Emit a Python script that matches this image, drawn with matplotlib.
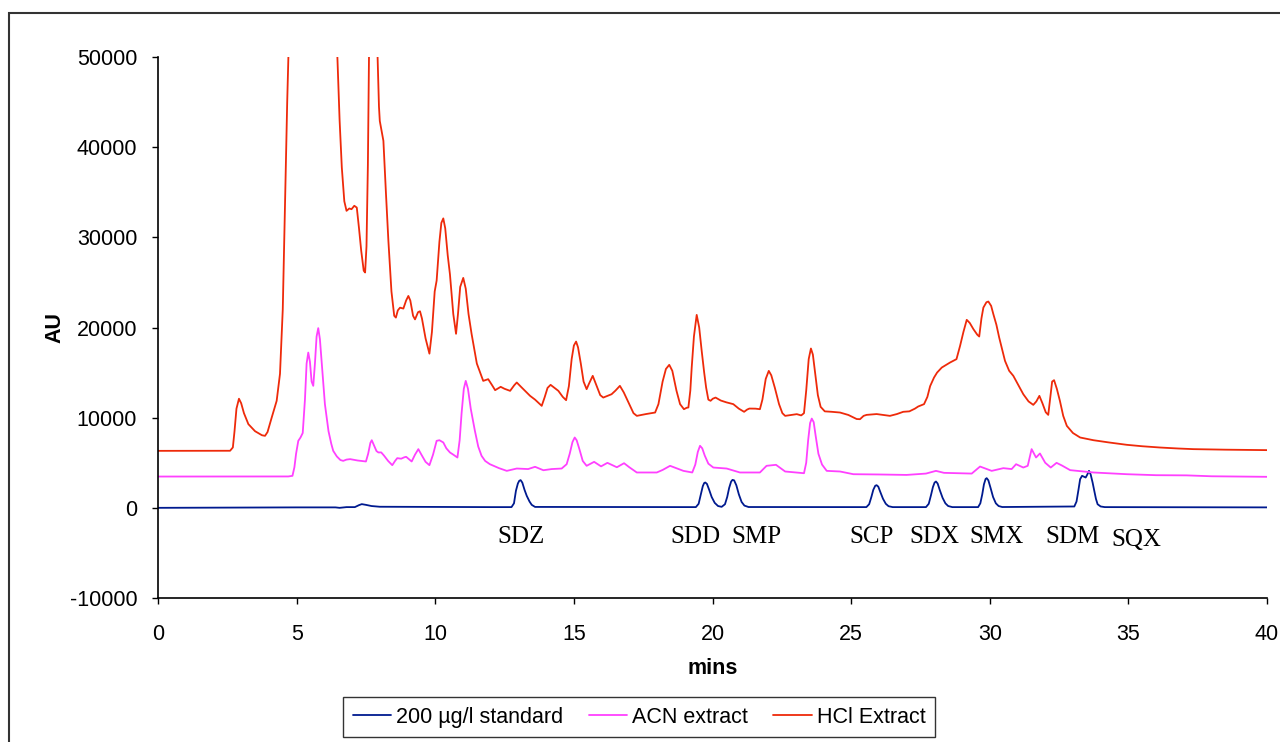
import matplotlib
matplotlib.use('Agg')
import matplotlib.pyplot as plt
from matplotlib.patches import Rectangle

# ── Data (time in mins, signal in AU) ──────────────────────────────────────────
std_t = [0, 5.0, 6.4, 6.55, 6.8, 7.1, 7.25, 7.35, 7.5, 7.7, 8.0, 12.0,
         12.75, 12.84, 12.91, 12.98, 13.03, 13.08, 13.14, 13.22, 13.3, 13.4, 13.48, 13.6,
         19.4, 19.5, 19.58, 19.65, 19.7, 19.74, 19.8, 19.88, 19.97, 20.08, 20.2, 20.33,
         20.45, 20.53, 20.6, 20.67, 20.72, 20.78, 20.86, 20.95, 21.05, 21.15, 21.3,
         25.55, 25.65, 25.73, 25.8, 25.87, 25.92, 25.98, 26.06, 26.15, 26.25, 26.35, 26.5,
         27.7, 27.8, 27.88, 27.95, 28.01, 28.06, 28.12, 28.2, 28.3, 28.4, 28.5, 28.65,
         29.58, 29.66, 29.73, 29.79, 29.85, 29.89, 29.95, 30.03, 30.12, 30.22, 30.32, 30.45,
         33.05, 33.13, 33.2, 33.26, 33.33, 33.4, 33.46, 33.52, 33.58, 33.64, 33.71, 33.77,
         33.83, 33.89, 34.0, 34.15, 40]
std_v = [0, 50, 50, 0, 80, 80, 300, 410, 330, 200, 120, 80,
         80, 500, 1890, 2700, 3000, 3070, 2800, 2000, 1330, 700, 330, 100,
         80, 450, 1500, 2400, 2750, 2810, 2650, 2000, 1200, 550, 200, 110,
         400, 1200, 2200, 2900, 3100, 3050, 2500, 1500, 650, 250, 90,
         80, 400, 1200, 2000, 2450, 2510, 2350, 1700, 1000, 450, 180, 80,
         80, 450, 1400, 2300, 2800, 2920, 2700, 1950, 1100, 500, 200, 80,
         80, 500, 1500, 2600, 3200, 3290, 3050, 2200, 1200, 500, 200, 90,
         150, 700, 2000, 3180, 3550, 3450, 3360, 3700, 4100, 3700, 2800, 1890,
         1000, 400, 150, 80, 50]

acn_t = [0, 4.7, 4.85, 4.92, 4.98, 5.06, 5.14, 5.22, 5.3, 5.36, 5.42, 5.48, 5.54, 5.6,
         5.66, 5.72, 5.78, 5.84, 5.92, 6.02, 6.15, 6.25, 6.32, 6.45, 6.58, 6.68, 6.8, 6.93,
         7.2, 7.5, 7.58, 7.66, 7.71, 7.78, 7.88, 7.95, 8.05, 8.15, 8.3, 8.45, 8.55, 8.63,
         8.77, 8.88, 8.95, 9.05, 9.15, 9.27, 9.39, 9.5, 9.65, 9.79, 9.92, 10.05, 10.15,
         10.29, 10.4, 10.53, 10.65, 10.8, 10.88, 10.95, 11.03, 11.1, 11.18, 11.28, 11.43,
         11.55, 11.67, 11.8, 11.97, 12.3, 12.58, 12.94, 13.35, 13.6, 13.9, 14.2, 14.56,
         14.74, 14.85, 14.95, 15.03, 15.1, 15.2, 15.32, 15.46, 15.73, 15.98, 16.21, 16.55,
         16.81, 17.0, 17.27, 17.99, 18.2, 18.47, 18.95, 19.27, 19.38, 19.47, 19.55, 19.63,
         19.72, 19.85, 20.03, 20.51, 20.99, 21.71, 21.95, 22.29, 22.62, 23.3, 23.38, 23.45,
         23.52, 23.58, 23.65, 23.72, 23.82, 23.95, 24.12, 24.6, 25.08, 26.0, 27.0, 27.7,
         28.06, 28.35, 29.35, 29.65, 30.07, 30.49, 30.79, 30.95, 31.21, 31.37, 31.51, 31.67,
         31.81, 32.0, 32.2, 32.41, 32.6, 32.9, 33.74, 34.94, 36.0, 37.1, 38.0, 40]
acn_v = [3470, 3480, 3550, 4500, 6000, 7430, 7800, 8300, 12000, 16000, 17220, 16200, 14000, 13530,
         16000, 19000, 19930, 18700, 15500, 11500, 8500, 7100, 6320, 5700, 5300, 5210, 5350, 5400,
         5250, 5140, 6000, 7200, 7500, 7000, 6300, 6140, 6150, 5800, 5200, 4730, 5200, 5510,
         5450, 5600, 5660, 5400, 5140, 5900, 6510, 5900, 5100, 4730, 5900, 7430, 7500,
         7250, 6600, 6140, 5900, 5580, 7500, 10500, 13200, 14080, 13200, 11000, 8540,
         6800, 5770, 5200, 4840, 4400, 4100, 4360, 4300, 4550, 4170, 4300, 4360,
         4840, 6000, 7300, 7800, 7500, 6500, 5200, 4660, 5100, 4600, 4990, 4500,
         4950, 4500, 3920, 3920, 4200, 4660, 4100, 3920, 4800, 6200, 6880, 6600,
         5800, 4900, 4470, 4360, 3920, 3920, 4660, 4770, 4030, 3840, 5000, 7500,
         9400, 9900, 9500, 8000, 6000, 4800, 4100, 4030, 3730, 3700, 3650, 3800,
         4100, 3880, 3800, 4580, 4100, 4400, 4300, 4840, 4470, 4660, 6510, 5580,
         6030, 5000, 4470, 4990, 4700, 4180, 3920, 3730, 3620, 3600, 3500, 3440]

hcl_t = [0, 2.6, 2.7, 2.76, 2.83, 2.92, 3.0, 3.1, 3.26, 3.5, 3.75, 3.86, 3.95, 4.1, 4.28,
         4.4, 4.5, 4.58, 4.66, 4.72, 4.8, 6.3, 6.47, 6.55, 6.63, 6.72, 6.8, 6.9, 6.98, 7.08,
         7.17, 7.25, 7.33, 7.42, 7.47, 7.52, 7.57, 7.61, 7.65, 7.88, 7.92, 7.97, 8.0, 8.13,
         8.22, 8.31, 8.42, 8.52, 8.58, 8.65, 8.73, 8.85, 8.95, 9.03, 9.1, 9.2, 9.27, 9.38,
         9.45, 9.52, 9.65, 9.79, 9.88, 9.98, 10.05, 10.15, 10.22, 10.29, 10.36, 10.45, 10.53,
         10.65, 10.75, 10.82, 10.9, 11.01, 11.1, 11.2, 11.31, 11.5, 11.73, 11.91, 12.05,
         12.16, 12.36, 12.5, 12.7, 12.85, 12.94, 13.1, 13.42, 13.6, 13.84, 13.95, 14.05,
         14.16, 14.3, 14.44, 14.6, 14.72, 14.82, 14.92, 15.0, 15.08, 15.15, 15.25, 15.35,
         15.46, 15.55, 15.68, 15.8, 15.95, 16.06, 16.2, 16.36, 16.5, 16.66, 16.8, 17.0,
         17.15, 17.27, 17.6, 17.93, 18.05, 18.2, 18.32, 18.44, 18.55, 18.7, 18.83, 18.97,
         19.07, 19.13, 19.2, 19.25, 19.33, 19.43, 19.52, 19.61, 19.7, 19.77, 19.85, 19.93,
         20.01, 20.11, 20.3, 20.5, 20.75, 20.95, 21.14, 21.25, 21.33, 21.55, 21.71, 21.8,
         21.92, 22.03, 22.12, 22.25, 22.4, 22.52, 22.62, 22.85, 23.04, 23.2, 23.3, 23.38,
         23.47, 23.55, 23.62, 23.7, 23.8, 23.9, 24.05, 24.3, 24.6, 24.9, 25.2, 25.32, 25.45,
         25.56, 25.92, 26.15, 26.4, 26.65, 26.88, 27.1, 27.3, 27.42, 27.63, 27.75, 27.85,
         27.99, 28.1, 28.27, 28.57, 28.8, 28.93, 29.05, 29.17, 29.28, 29.41, 29.55, 29.62,
         29.7, 29.77, 29.88, 29.95, 30.05, 30.13, 30.24, 30.34, 30.55, 30.7, 30.85, 31.0,
         31.21, 31.4, 31.57, 31.68, 31.79, 31.9, 32.02, 32.11, 32.18, 32.25, 32.32, 32.42,
         32.53, 32.65, 32.78, 33.0, 33.26, 33.74, 34.3, 34.94, 35.5, 36.14, 36.8, 37.34,
         38.5, 40]
hcl_v = [6320, 6330, 6700, 8500, 11000, 12100, 11600, 10500, 9280, 8500, 8050, 7985, 8400, 10000, 11866,
         14860, 22000, 33300, 45000, 52000, 60000, 60000, 50000, 43000, 37740, 34000, 32940, 33200, 33120, 33500,
         33300, 31000, 28500, 26300, 26100, 29000, 38000, 50000, 60000, 60000, 50000, 44500, 42900, 40700,
         35000, 29600, 24000, 21300, 21100, 21900, 22200, 22100, 23000, 23500, 23000, 21300, 20900, 21700,
         21800, 21000, 18800, 17100, 19500, 24000, 25200, 29500, 31600, 32100, 31000, 28000, 25900,
         21500, 19300, 21500, 24500, 25500, 24300, 21500, 19300, 16000, 14080, 14270, 13600,
         13050, 13420, 13200, 12975, 13600, 13900, 13400, 12420, 12000, 11310, 12300, 13300,
         13640, 13300, 12975, 12300, 11940, 13500, 16500, 18000, 18440, 17800, 16000, 14000,
         13160, 13800, 14640, 13700, 12500, 12230, 12400, 12600, 13000, 13530, 12800, 11500,
         10500, 10200, 10400, 10570, 11500, 14000, 15400, 15860, 15200, 13000, 11500, 10940,
         11100, 11130, 13000, 15560, 19000, 21400, 20000, 17410, 15000, 13340, 12000, 11870,
         12100, 12230, 11900, 11700, 11500, 11000, 10650, 10900, 11010, 11000, 10940, 12000,
         14300, 15190, 14700, 13300, 11500, 10500, 10200, 10300, 10390, 10250, 10500, 13000,
         16500, 17670, 17000, 15000, 12500, 11200, 10700, 10650, 10570, 10300, 9850, 9830, 10200,
         10310, 10400, 10300, 10200, 10400, 10650, 10700, 11000, 11240, 11500, 12300, 13500,
         14450, 15000, 15560, 16120, 16490, 17970, 19500, 20850, 20500, 19820, 19200, 19000,
         21000, 22210, 22800, 22880, 22400, 21480, 20300, 18890, 16300, 15200, 14640, 13800,
         12600, 11800, 11420, 11800, 12420, 11600, 10600, 10310, 12200, 14000, 14160, 13200,
         11870, 10200, 9090, 8300, 7800, 7500, 7250, 6990, 6830, 6690, 6580, 6510,
         6450, 6400]

peak_names = ['SDZ', 'SDD', 'SMP', 'SCP', 'SDX', 'SMX', 'SDM', 'SQX']
label_t = [13.1, 19.37, 21.6, 25.72, 28.0, 30.23, 32.97, 35.27]
label_v = [-3200, -3200, -3200, -3200, -3200, -3200, -3200, -3550]

series_names = ['200 µg/l standard', 'ACN extract', 'HCl Extract']

# ── Plot ───────────────────────────────────────────────────────────────────────
plt.rcParams['font.family'] = ['Liberation Sans', 'DejaVu Sans']
plt.rcParams['axes.unicode_minus'] = False

fig = plt.figure(figsize=(12.8, 7.42), dpi=100)
ax = fig.add_axes([158 / 1280, 1 - 598 / 742, 1109 / 1280, 541 / 742])

line_kw = dict(lw=1.3, solid_joinstyle='round', solid_capstyle='round')
ax.plot(std_t, std_v, color='#001a8f', label=series_names[0], **line_kw)
ax.plot(acn_t, acn_v, color='#ff40ff', label=series_names[1], **line_kw)
ax.plot(hcl_t, hcl_v, color='#ee2a0a', label=series_names[2], **line_kw)

for name, t, v in zip(peak_names, label_t, label_v):
    ax.text(t, v, name, ha='center', va='center', fontsize=18,
            family='Liberation Serif')

ax.set_xlim(0, 40)
ax.set_ylim(-10000, 50000)
ax.set_xticks(range(0, 41, 5))
ax.set_yticks(range(-10000, 50001, 10000))
ax.tick_params(axis='both', labelsize=15.5, direction='out', length=4, width=1)
ax.tick_params(axis='x', pad=15)
ax.tick_params(axis='y', pad=11)
for side in ['top', 'right']:
    ax.spines[side].set_visible(False)
for side in ['left', 'bottom']:
    ax.spines[side].set_linewidth(1.2)

fig.text(713 / 1280, 1 - 668 / 742, 'mins', ha='center', va='center',
         fontsize=15.5, fontweight='bold')
fig.text(55 / 1280, 1 - 327 / 742, 'AU', ha='center', va='center',
         fontsize=15.5, fontweight='bold', rotation=90)

leg = fig.legend(loc='upper left', bbox_to_anchor=(343 / 1280, 1 - 697 / 742),
                 ncol=3, fontsize=15.5, frameon=True, fancybox=False,
                 edgecolor='black', borderaxespad=0, handlelength=1.8,
                 handletextpad=0.2, columnspacing=1.2, borderpad=0.45)
leg.get_frame().set_linewidth(1.0)

# outer chart-area frame (right and bottom edges fall outside the image)
fig.patches.append(Rectangle((9 / 1280, -0.2), 1.2, 1.2 - 13 / 742,
                             transform=fig.transFigure, fill=False,
                             edgecolor='#333333', lw=1.5, clip_on=False))

plt.savefig('out.png', dpi=100)
plt.close()
